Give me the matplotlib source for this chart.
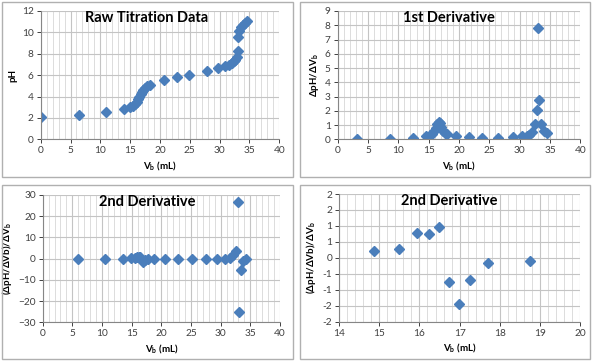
import matplotlib
matplotlib.use('Agg')
import matplotlib.pyplot as plt
from matplotlib.patches import Rectangle
from matplotlib.ticker import MultipleLocator

plt.rcParams['font.family'] = ['Lato', 'DejaVu Sans']

# raw titration data
raw_volume = [0, 6.37, 10.95, 13.97, 15.0, 15.4, 15.8, 16.1, 16.35, 16.55, 16.75, 16.95,
              17.2, 17.5, 17.9, 18.3, 20.6, 22.8, 24.9, 27.9, 29.8, 30.9, 31.5, 32.0,
              32.4, 32.65, 32.85, 33.0, 33.1, 33.3, 33.6, 33.9, 34.2, 34.6]
raw_ph = [2.12, 2.31, 2.56, 2.87, 3.05, 3.15, 3.30, 3.50, 3.75, 4.00, 4.25, 4.45,
          4.62, 4.78, 4.95, 5.10, 5.55, 5.86, 6.05, 6.39, 6.64, 6.86, 6.98, 7.12,
          7.30, 7.45, 7.70, 8.29, 9.57, 10.16, 10.55, 10.72, 10.85, 11.03]

# first derivative
d1_volume = [3.19, 8.66, 12.46, 14.49, 15.2, 15.6, 15.95, 16.22, 16.45, 16.65, 16.85,
             17.07, 17.35, 17.7, 18.1, 19.45, 21.7, 23.85, 26.45, 28.85, 30.34, 31.2,
             31.6, 32.1, 32.53, 32.9, 33.05, 33.22, 33.6, 34.0, 34.45]
d1_value = [0.03, 0.05, 0.08, 0.2, 0.28, 0.38, 0.6, 0.8, 1.05, 1.24, 1.12,
            0.85, 0.6, 0.45, 0.36, 0.2, 0.14, 0.12, 0.12, 0.14, 0.2, 0.26,
            0.33, 0.48, 1.08, 2.05, 7.78, 2.75, 1.08, 0.55, 0.44]

# second derivative
d2_volume = [5.9, 10.55, 13.5, 14.88, 15.49, 15.93, 16.24, 16.48, 16.73, 16.99, 17.26,
             17.7, 18.74, 20.6, 22.8, 25.1, 27.6, 29.43, 30.73, 31.57, 32.13, 32.58,
             32.97, 33.14, 33.37, 33.8, 34.27]
d2_value = [0.0, 0.0, 0.0, 0.23, 0.29, 0.78, 0.74, 0.97, -0.76, -1.46, -0.68,
            -0.17, -0.09, 0.0, 0.0, 0.0, 0.0, 0.0, 0.05, 0.5, 1.7, 3.6,
            26.8, -25.0, -5.3, -1.1, 0.0]

zoom_yticks = [-2, -1.5, -1, -0.5, 0, 0.5, 1, 1.5, 2]
zoom_yticklabels = ['-2', '-2', '-1', '-1', '0', '1', '1', '2', '2']

blue = '#4a7ebb'
W, H = 595, 362
fig = plt.figure(figsize=(W / 100, H / 100), dpi=100)


def px_axes(x0, y0, x1, y1):
    return fig.add_axes([x0 / W, 1 - y1 / H, (x1 - x0) / W, (y1 - y0) / H])


def frame(x0, y0, x1, y1):
    fig.patches.append(Rectangle((x0 / W, 1 - y1 / H), (x1 - x0) / W, (y1 - y0) / H,
                                 transform=fig.transFigure, fill=False,
                                 edgecolor='#b0b0b0', linewidth=1.0))


def style(ax, xlim, xmajor, xminor, ylim, ymajor, title, title_xy, ylabel):
    ax.set_xlim(*xlim)
    ax.set_ylim(*ylim)
    ax.xaxis.set_major_locator(MultipleLocator(xmajor))
    ax.xaxis.set_minor_locator(MultipleLocator(xminor))
    ax.yaxis.set_major_locator(MultipleLocator(ymajor))
    ax.grid(which='major', color='#c4c4c4', linewidth=0.8)
    ax.grid(which='minor', axis='x', color='#dcdcdc', linewidth=0.7)
    ax.set_axisbelow(True)
    for s in ['top', 'right']:
        ax.spines[s].set_visible(False)
    for s in ['left', 'bottom']:
        ax.spines[s].set_color('#868686')
        ax.spines[s].set_linewidth(0.8)
    ax.tick_params(which='major', labelsize=7.3, colors='#404040', length=3, width=0.7,
                   pad=2)
    ax.tick_params(which='minor', length=0)
    ax.set_xlabel('V$_\\mathregular{b}$ (mL)', fontsize=7, fontweight='bold', labelpad=3)
    ax.set_ylabel(ylabel, fontsize=7, fontweight='bold', labelpad=3)
    fig.text(title_xy[0] / W, 1 - title_xy[1] / H, title, fontsize=10.5, fontweight='bold',
             ha='center', va='center')


frame(2, 2, 293, 177)
frame(300, 2, 590, 177)
frame(2, 185, 293, 359)
frame(300, 185, 590, 359)

ax1 = px_axes(40.7, 11, 279.3, 139.3)
ax1.plot(raw_volume, raw_ph, 'D', color=blue, ms=4.6, mec=blue)
style(ax1, (0, 40), 5, 1, (0, 12), 2, 'Raw Titration Data', (147, 18), 'pH')

ax2 = px_axes(337.7, 11, 580.3, 139.3)
ax2.plot(d1_volume, d1_value, 'D', color=blue, ms=4.6, mec=blue)
style(ax2, (0, 40), 5, 1, (0, 9), 1, '1st Derivative', (449, 18),
      '\u0394pH/\u0394V$_\\mathregular{b}$')

ax3 = px_axes(42.7, 195, 280, 322.3)
ax3.plot(d2_volume, d2_value, 'D', color=blue, ms=4.6, mec=blue)
style(ax3, (0, 40), 5, 1, (-30, 30), 10, '2nd Derivative', (147, 202),
      '(\u0394pH/\u0394Vb)/\u0394V$_\\mathregular{b}$')

ax4 = px_axes(339, 194, 580.3, 321.7)
ax4.plot(d2_volume, d2_value, 'D', color=blue, ms=4.6, mec=blue)
style(ax4, (14, 20), 1, 0.2, (-2, 2), 0.5, '2nd Derivative', (449, 201),
      '(\u0394pH/\u0394Vb)/\u0394V$_\\mathregular{b}$')
ax4.set_yticks(zoom_yticks)
ax4.set_yticklabels(zoom_yticklabels)

fig.savefig('out.png', dpi=100)
